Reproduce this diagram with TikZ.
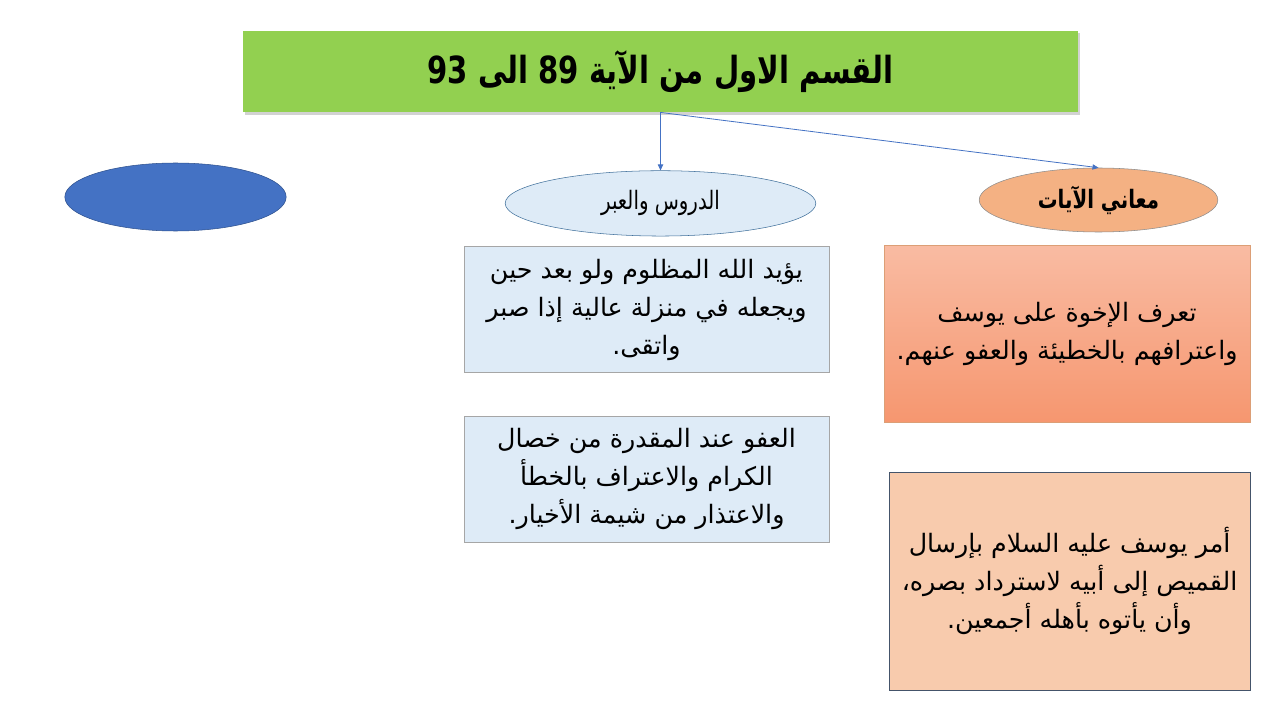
\documentclass[tikz,border=0pt]{standalone}
\usepackage{fontspec}
\usepackage{xcolor}
\usepackage{tikz}
\usetikzlibrary{positioning,shapes.geometric,shadows,arrows.meta}
\TeXXeTstate=1
\newfontfamily\arabicfont[Script=Arabic]{DejaVu Sans}
\newfontfamily\arabicnarrow[Script=Arabic,FakeStretch=0.78]{DejaVu Sans}
\newcommand{\artext}[1]{\beginR #1\endR}
\definecolor{titlegreen}{HTML}{92D050}
\definecolor{lightblue}{HTML}{DEEBF7}
\definecolor{lineblue}{HTML}{4472C4}
\definecolor{darkblue}{HTML}{2F528F}
\definecolor{edgeblue}{HTML}{41719C}
\definecolor{peach}{HTML}{F4B183}
\definecolor{lightpeach}{HTML}{F8CBAD}
\definecolor{slate}{HTML}{44546A}

\begin{document}
\begin{tikzpicture}[
        x=0.75pt, y=-0.75pt,
        titlenode0/.style={rectangle, fill=titlegreen, minimum width=626pt, minimum height=61pt, drop shadow={opacity=0.35, shadow xshift=1.5pt, shadow yshift=-2pt}, font=\arabicnarrow\bfseries\fontsize{28}{32}\selectfont},
        ovalnode1/.style={ellipse, draw=edgeblue, fill=lightblue, thin, minimum width=233pt, minimum height=49pt, font=\arabicnarrow\fontsize{19}{22}\selectfont},
        ovalnode2/.style={ellipse, draw=black!45, fill=peach, thin, minimum width=179pt, minimum height=48pt, font=\arabicnarrow\bfseries\fontsize{19}{22}\selectfont},
        ovalnode3/.style={ellipse, draw=darkblue, fill=lineblue, thin, minimum width=166pt, minimum height=51pt},
        textnode1/.style={rectangle, draw=black!35, fill=lightblue, thin, minimum width=274pt, minimum height=94.5pt, align=center, font=\arabicfont\fontsize{19}{28.5}\selectfont},
        textnode2/.style={rectangle, draw=peach!90!black, top color=peach!60!white!90!red, bottom color=peach!85!red, thin, minimum width=274.5pt, minimum height=132.75pt, align=center, font=\arabicfont\fontsize{19}{28.5}\selectfont},
        textnode3/.style={rectangle, draw=slate, fill=lightpeach, thin, minimum width=270.75pt, minimum height=163.5pt, align=center, font=\arabicfont\fontsize{19}{28.5}\selectfont},
        linkline/.style={draw=lineblue, line width=0.6pt, -{Triangle[length=4.5pt,width=4pt]}},
    ]
    \fill[white] (0,0) rectangle (1280,720);
    \useasboundingbox (0,0) rectangle (1280,720);
    %Nodes
    \node[titlenode0] (titlenode) at (660.5,71.5) {\artext{القسم الاول من الآية \beginL 89\endL{} الى \beginL 93\endL}};
    \node[ovalnode1] (lessonnode) [below=43.5pt of titlenode] {\artext{الدروس والعبر}};
    \node[ovalnode2] (meaningnode) at (1098.5,200) {\artext{معاني الآيات}};
    \node[ovalnode3] (bluenode) at (175.5,197) {};
    \node[textnode1] (lessononenode) [below=7.5pt of lessonnode, xshift=-10.5pt] {\artext{يؤيد الله المظلوم ولو بعد حين}\\ \artext{ويجعله في منزلة عالية إذا صبر}\\ \artext{واتقى.}};
    \node[textnode1] (lessontwonode) [below=32.25pt of lessononenode] {\artext{العفو عند المقدرة من خصال}\\ \artext{الكرام والاعتراف بالخطأ}\\ \artext{والاعتذار من شيمة الأخيار.}};
    \node[textnode2] (meaningonenode) [below=9.75pt of meaningnode, xshift=-23.6pt] {\artext{تعرف الإخوة على يوسف}\\ \artext{واعترافهم بالخطيئة والعفو عنهم.}};
    \node[textnode3] (meaningtwonode) [below=36.75pt of meaningonenode, xshift=1.9pt] {\artext{أمر يوسف عليه السلام بإرسال}\\ \artext{القميص إلى أبيه لاسترداد بصره،}\\ \artext{وأن يأتوه بأهله أجمعين.}};
    %Lines
    \draw[linkline] (titlenode.south) -- (lessonnode.north);
    \draw[linkline] (titlenode.south) -- (meaningnode.north);
\end{tikzpicture}
\end{document}
